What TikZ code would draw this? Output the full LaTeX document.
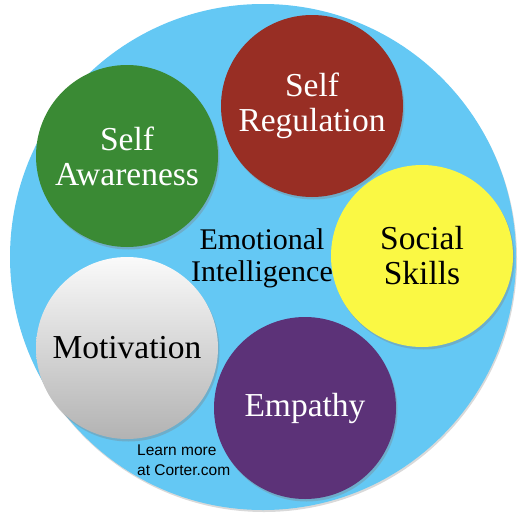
\documentclass[tikz,border=0pt]{standalone}
\usepackage{fontspec}
\setmainfont{Liberation Serif}
\newfontfamily\notefont{Liberation Sans}
\usetikzlibrary{shadows}

\definecolor{skyblue}{RGB}{100,200,244}
\definecolor{feltgreen}{RGB}{58,138,52}
\definecolor{feltred}{RGB}{152,46,36}
\definecolor{feltyellow}{RGB}{250,248,68}
\definecolor{feltpurple}{RGB}{92,50,120}

\tikzset{
  bubble/.style={circle, minimum size=182pt, inner sep=0pt, align=center,
    font=\fontsize{33.5}{35}\selectfont,
    drop shadow={opacity=0.35, shadow xshift=1.5pt, shadow yshift=-2.5pt}},
}

\begin{document}
\begin{tikzpicture}[x=1pt,y=-1pt]
      % \draw[help lines](0,0) grid[step=50pt] (522,514);
      \useasboundingbox (0,0) rectangle (522,514);

      \draw (263,257) node[circle, fill=skyblue, minimum size=506pt, inner sep=0pt,
        drop shadow={opacity=0.3, shadow xshift=1pt, shadow yshift=-2pt}] (ground) {};

      \draw (127,156) node[bubble, fill=feltgreen, text=white] (awareness) {Self\\Awareness};
      \draw (312,106) node[bubble, fill=feltred, text=white] (regulation) {Self\\Regulation};
      \draw (422,256) node[bubble, fill=feltyellow] (social) {Social\\Skills};
      \draw (305,408) node[bubble, fill=feltpurple, text=white] (empathy) {Empathy};
      \draw (127,348) node[bubble, top color=white!96!gray, bottom color=black!30] (motivation) {Motivation};

      \draw (262,258) node[align=center, font=\fontsize{30}{32}\selectfont] (ei) {Emotional\\Intelligence};
      \draw (137,460) node[anchor=west, align=left, inner sep=0pt,
        font=\notefont\fontsize{15.5}{20}\selectfont] (note) {Learn more\\at Corter.com};
\end{tikzpicture}
\end{document}
